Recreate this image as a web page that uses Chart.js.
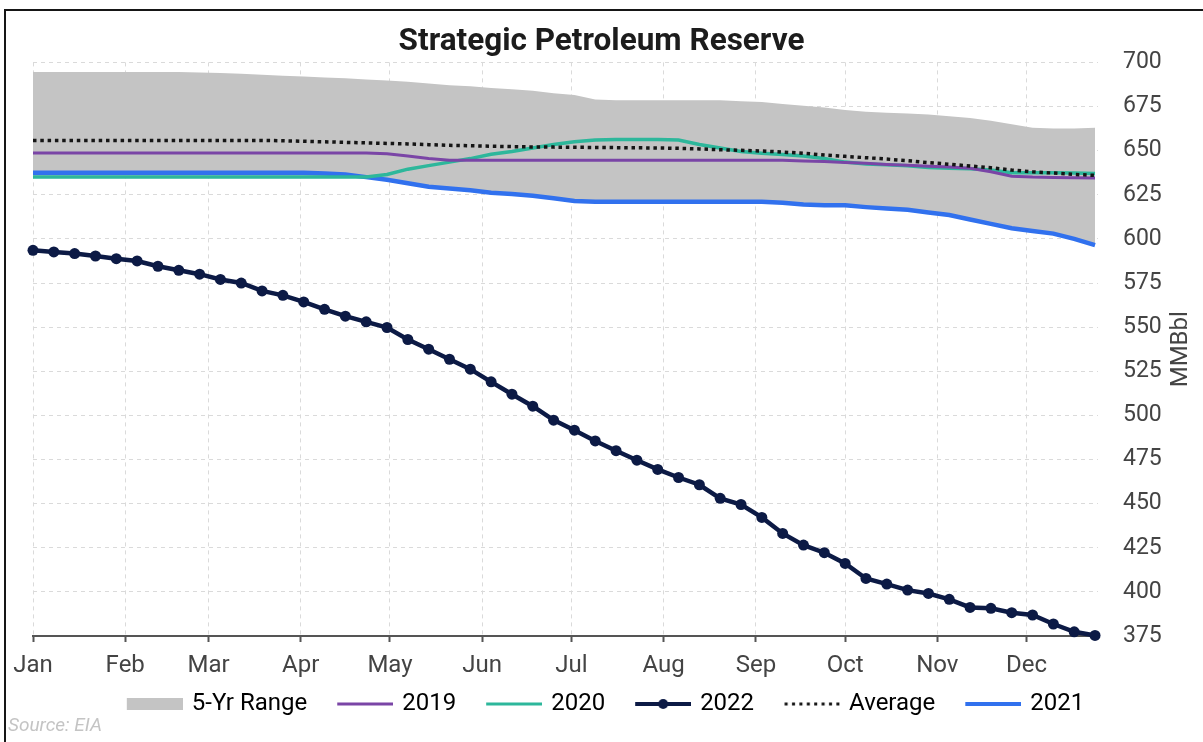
<!DOCTYPE html>
<html>
<head>
<meta charset="utf-8">
<title>Strategic Petroleum Reserve</title>
<script src="https://cdn.jsdelivr.net/npm/chart.js@4.4.1/dist/chart.umd.min.js"></script>
<style>
  html, body { margin: 0; padding: 0; background: #fff; overflow: hidden; }
  #wrap { position: relative; width: 1203px; height: 742px; }
  #frame { position: absolute; left: 4px; top: 9px; width: 1300px; height: 800px;
           border: 2px solid #161616; box-sizing: border-box; pointer-events: none; }
  #source { position: absolute; left: 8px; top: 713px; font: italic 19px Roboto, sans-serif; color: #c4c4c4; }
</style>
</head>
<body>
<div id="wrap">
  <canvas id="chart" width="1203" height="742"></canvas>
  <div id="frame"></div>
  <div id="source">Source: EIA</div>
</div>
<script>
// Month axis: label and the day of year on which each month starts
const monthLabels = ['Jan', 'Feb', 'Mar', 'Apr', 'May', 'Jun', 'Jul', 'Aug', 'Sep', 'Oct', 'Nov', 'Dec'];
const monthStartDays = [0, 31, 59, 90, 120, 151, 181, 212, 243, 273, 304, 334];

// Weekly observations (day of year)
const weekDays = [
  0, 7, 14, 21, 28, 35, 42, 49, 56, 63, 70, 77, 84,
  91, 98, 105, 112, 119, 126, 133, 140, 147, 154, 161, 168, 175,
  182, 189, 196, 203, 210, 217, 224, 231, 238, 245, 252, 259, 266,
  273, 280, 287, 294, 301, 308, 315, 322, 329, 336, 343, 350, 357
];

// SPR stocks, million barrels
const range5yHigh = [
  694.5, 694.5, 694.5, 694.5, 694.5, 694.5, 694.5, 694.5, 694.3, 694, 693.5, 693, 692.5,
  692, 691.5, 691, 690.3, 689.8, 689, 688, 687, 686.5, 685.5, 684.8, 684, 682.5,
  681.5, 679, 678.5, 678.5, 678.5, 678.5, 678.5, 678.5, 678, 677.5, 676.5, 675.5, 674.5,
  673, 672, 671.5, 671, 670.5, 669.5, 668.5, 667, 665, 663, 662.5, 662.5, 663
];
const range5yLow = [
  635.1, 635.1, 635.1, 635.1, 635.1, 635.1, 635.1, 635.1, 635.1, 635.1, 635.1, 635.1, 635.1,
  635.1, 635.1, 635.1, 635.1, 633.5, 631.5, 629.5, 628.5, 627.5, 626.2, 625.5, 624.5, 623,
  621.5, 621, 621, 621, 621, 621, 621, 621, 621, 621, 620.5, 619.5, 619,
  619, 618, 617.2, 616.5, 615, 613.5, 611, 608.5, 606, 604.5, 603, 600, 596.5
];
const stocks2019 = [
  648.6, 648.6, 648.6, 648.6, 648.6, 648.6, 648.6, 648.6, 648.6, 648.6, 648.6, 648.6, 648.6,
  648.6, 648.6, 648.6, 648.6, 648.2, 647, 645.5, 644.6, 644.5, 644.5, 644.5, 644.5, 644.5,
  644.5, 644.5, 644.5, 644.5, 644.5, 644.5, 644.5, 644.5, 644.5, 644.5, 644.5, 644.2, 643.8,
  643.3, 642.8, 642.2, 641.7, 641.2, 640.7, 640, 638, 635.5, 635, 634.8, 634.6, 634.5
];
const stocks2020 = [
  635.1, 635.1, 635.1, 635.1, 635.1, 635.1, 635.1, 635.1, 635.1, 635.1, 635.1, 635.1, 635.1,
  635.1, 635.1, 635.1, 635.1, 636.5, 639.5, 641.5, 643.5, 645.5, 648, 649.5, 651.5, 653.5,
  655, 656, 656.3, 656.3, 656.3, 656, 653.5, 651.5, 649.5, 648.5, 647.8, 647, 645.5,
  643.5, 642.5, 642, 641.5, 640.5, 640, 639.8, 639, 637.5, 637.5, 637.5, 637.3, 637
];
const stocks2021 = [
  637.5, 637.5, 637.5, 637.5, 637.5, 637.5, 637.5, 637.5, 637.5, 637.5, 637.5, 637.5, 637.5,
  637.5, 637, 636.5, 635, 633.5, 631.5, 629.5, 628.5, 627.5, 626.2, 625.5, 624.5, 623,
  621.5, 621, 621, 621, 621, 621, 621, 621, 621, 621, 620.5, 619.5, 619,
  619, 618, 617.2, 616.5, 615, 613.5, 611, 608.5, 606, 604.5, 603, 600, 596.5
];
const stocks2022 = [
  593.5, 592.6, 591.7, 590.3, 588.8, 587.5, 584.5, 582.2, 580, 577, 575, 570.5, 568,
  564.3, 560.1, 556.2, 553, 549.8, 543, 537.5, 531.8, 526.2, 519, 512, 505.2, 497.3,
  491.6, 485.5, 480, 474.6, 469.4, 464.8, 460.7, 453, 449.5, 442.2, 433.1, 426.5, 422.2,
  416.1, 407.6, 404.4, 401, 399.1, 395.8, 391.2, 390.7, 388.2, 386.9, 381.8, 377.4, 375.3
];
const average5y = [
  655.8, 655.8, 655.8, 655.8, 655.8, 655.8, 655.8, 655.8, 655.8, 655.8, 655.8, 655.8, 655.6,
  655.3, 655, 654.7, 654.4, 654.1, 653.8, 653.4, 653, 652.8, 652.5, 652.3, 652.1, 652,
  651.9, 651.8, 651.7, 651.6, 651.5, 651.3, 651, 650.5, 650.2, 649.8, 649.2, 648.5, 647.5,
  646.8, 646, 645.2, 644.3, 643.2, 642.3, 641.3, 640.3, 639, 638, 637.3, 636.5, 636
];

// Value axis
const yMin = 375, yMax = 700, yStep = 25;
const unitLabel = 'MMBbl';
const chartTitle = 'Strategic Petroleum Reserve';

const COLORS = {
  range: '#c4c4c4',
  y2019: '#7a45a6',
  y2020: '#2db79b',
  y2021: '#3171ee',
  y2022: '#0c1a45',
  avg: '#151515'
};

const toPoints = (values) => weekDays.map((d, i) => ({ x: d, y: values[i] }));

// Legend glyphs: a blank lead-in keeps the entries apart, the glyph sits at the right
const GLYPH_LEAD = 28, GLYPH_W = 56, GLYPH_H = 16, TEXT_GAP = 9, LEGEND_FONT = 24;
const LEGEND_BOX = GLYPH_LEAD + GLYPH_W + TEXT_GAP - LEGEND_FONT / 2;
const CANVAS_W = 2 * (GLYPH_LEAD + GLYPH_W) - LEGEND_BOX;

function glyph(draw) {
  const c = document.createElement('canvas');
  c.width = CANVAS_W; c.height = GLYPH_H;
  const g = c.getContext('2d');
  g.translate(CANVAS_W - GLYPH_W, 0);
  draw(g);
  return c;
}
function lineGlyph(color, width) {
  return glyph(g => {
    g.strokeStyle = color; g.lineWidth = width;
    g.beginPath(); g.moveTo(0, 8); g.lineTo(GLYPH_W, 8); g.stroke();
  });
}
const legendGlyphs = {
  range: glyph(g => { g.fillStyle = COLORS.range; g.fillRect(0, 2, GLYPH_W, 12); }),
  y2019: lineGlyph(COLORS.y2019, 3),
  y2020: lineGlyph(COLORS.y2020, 3),
  y2022: glyph(g => {
    g.strokeStyle = COLORS.y2022; g.lineWidth = 4;
    g.beginPath(); g.moveTo(0, 8); g.lineTo(GLYPH_W, 8); g.stroke();
    g.fillStyle = COLORS.y2022;
    g.beginPath(); g.arc(GLYPH_W / 2, 8, 5, 0, Math.PI * 2); g.fill();
  }),
  avg: glyph(g => {
    g.fillStyle = COLORS.avg;
    for (let x = 2; x < GLYPH_W; x += 7.4) g.fillRect(x - 1.5, 6.5, 3, 3);
  }),
  y2021: lineGlyph(COLORS.y2021, 4)
};

// Rotated unit label beside the value axis
const unitLabelPlugin = {
  id: 'unitLabel',
  afterDraw(chart) {
    const { ctx, chartArea } = chart;
    ctx.save();
    ctx.translate(chartArea.right + 83, (chartArea.top + chartArea.bottom) / 2);
    ctx.rotate(-Math.PI / 2);
    ctx.font = '24px Roboto';
    ctx.fillStyle = '#444';
    ctx.textAlign = 'center';
    ctx.textBaseline = 'middle';
    ctx.fillText(unitLabel, 0, 0);
    ctx.restore();
  }
};

// Recentre the legend row, whose first entry carries a blank lead-in
const legendOffset = {
  id: 'legendOffset',
  afterLayout(chart) {
    const lg = chart.legend;
    if (lg) { lg.left -= 10; lg.right -= 10; }
  }
};

Chart.defaults.font.family = 'Roboto';

new Chart(document.getElementById('chart'), {
  type: 'line',
  data: {
    datasets: [
      { label: '2022', data: toPoints(stocks2022), borderColor: COLORS.y2022, backgroundColor: COLORS.y2022,
        borderWidth: 4.5, pointRadius: 5.5, pointBackgroundColor: COLORS.y2022, pointBorderWidth: 0,
        tension: 0, clip: false, order: 0 },
      { label: 'Average', data: toPoints(average5y), borderColor: COLORS.avg, borderWidth: 3.5,
        borderDash: [3.5, 3.8], pointRadius: 0, tension: 0, order: 1 },
      { label: '2019', data: toPoints(stocks2019), borderColor: COLORS.y2019, borderWidth: 3,
        pointRadius: 0, tension: 0, order: 2 },
      { label: '2020', data: toPoints(stocks2020), borderColor: COLORS.y2020, borderWidth: 3.5,
        pointRadius: 0, tension: 0, order: 3 },
      { label: '2021', data: toPoints(stocks2021), borderColor: COLORS.y2021, borderWidth: 4.5,
        pointRadius: 0, tension: 0, order: 4 },
      { label: '5-Yr Range', data: toPoints(range5yHigh), borderWidth: 0, pointRadius: 0,
        backgroundColor: COLORS.range, fill: '+1', tension: 0, order: 5 },
      { label: '5-Yr Low', data: toPoints(range5yLow), borderWidth: 0, pointRadius: 0,
        fill: false, tension: 0, order: 6 }
    ]
  },
  options: {
    responsive: false,
    animation: false,
    devicePixelRatio: 1,
    layout: { padding: { left: 33, right: 33, top: 0, bottom: 16 } },
    scales: {
      x: {
        type: 'linear',
        min: 0,
        max: 358,
        afterBuildTicks: (scale) => { scale.ticks = monthStartDays.map(v => ({ value: v })); },
        ticks: {
          callback: (value) => monthLabels[monthStartDays.indexOf(value)],
          font: { size: 24 },
          color: '#444',
          padding: 9.6,
          maxRotation: 0,
          autoSkip: false
        },
        grid: { color: '#dadada', lineWidth: 1, drawTicks: true, tickLength: 6,
                tickColor: '#555', tickWidth: 2, tickBorderDash: [] },
        border: { display: true, color: '#555', width: 2, dash: [4, 4] }
      },
      y: {
        position: 'right',
        min: yMin,
        max: yMax,
        afterFit: (scale) => { scale.width = 72; },
        ticks: { stepSize: yStep, font: { size: 23 }, color: '#444', padding: 25 },
        grid: { color: '#dadada', lineWidth: 1, drawTicks: false },
        border: { display: false, dash: [4, 4] }
      }
    },
    plugins: {
      title: {
        display: true,
        text: chartTitle,
        font: { size: 31.5, weight: 'bold' },
        color: '#1c1c1c',
        padding: { top: 23.2, bottom: 1.4 }
      },
      legend: {
        position: 'bottom',
        labels: {
          usePointStyle: true,
          pointStyleWidth: LEGEND_BOX,
          padding: 2,
          color: '#333',
          font: { size: LEGEND_FONT },
          generateLabels: () => [
            { text: '5-Yr Range', pointStyle: legendGlyphs.range, datasetIndex: 5, lineWidth: 0 },
            { text: '2019', pointStyle: legendGlyphs.y2019, datasetIndex: 2, lineWidth: 0 },
            { text: '2020', pointStyle: legendGlyphs.y2020, datasetIndex: 3, lineWidth: 0 },
            { text: '2022', pointStyle: legendGlyphs.y2022, datasetIndex: 0, lineWidth: 0 },
            { text: 'Average', pointStyle: legendGlyphs.avg, datasetIndex: 1, lineWidth: 0 },
            { text: '2021', pointStyle: legendGlyphs.y2021, datasetIndex: 4, lineWidth: 0 }
          ]
        }
      },
      tooltip: { enabled: false }
    }
  },
  plugins: [unitLabelPlugin, legendOffset]
});
</script>
</body>
</html>
